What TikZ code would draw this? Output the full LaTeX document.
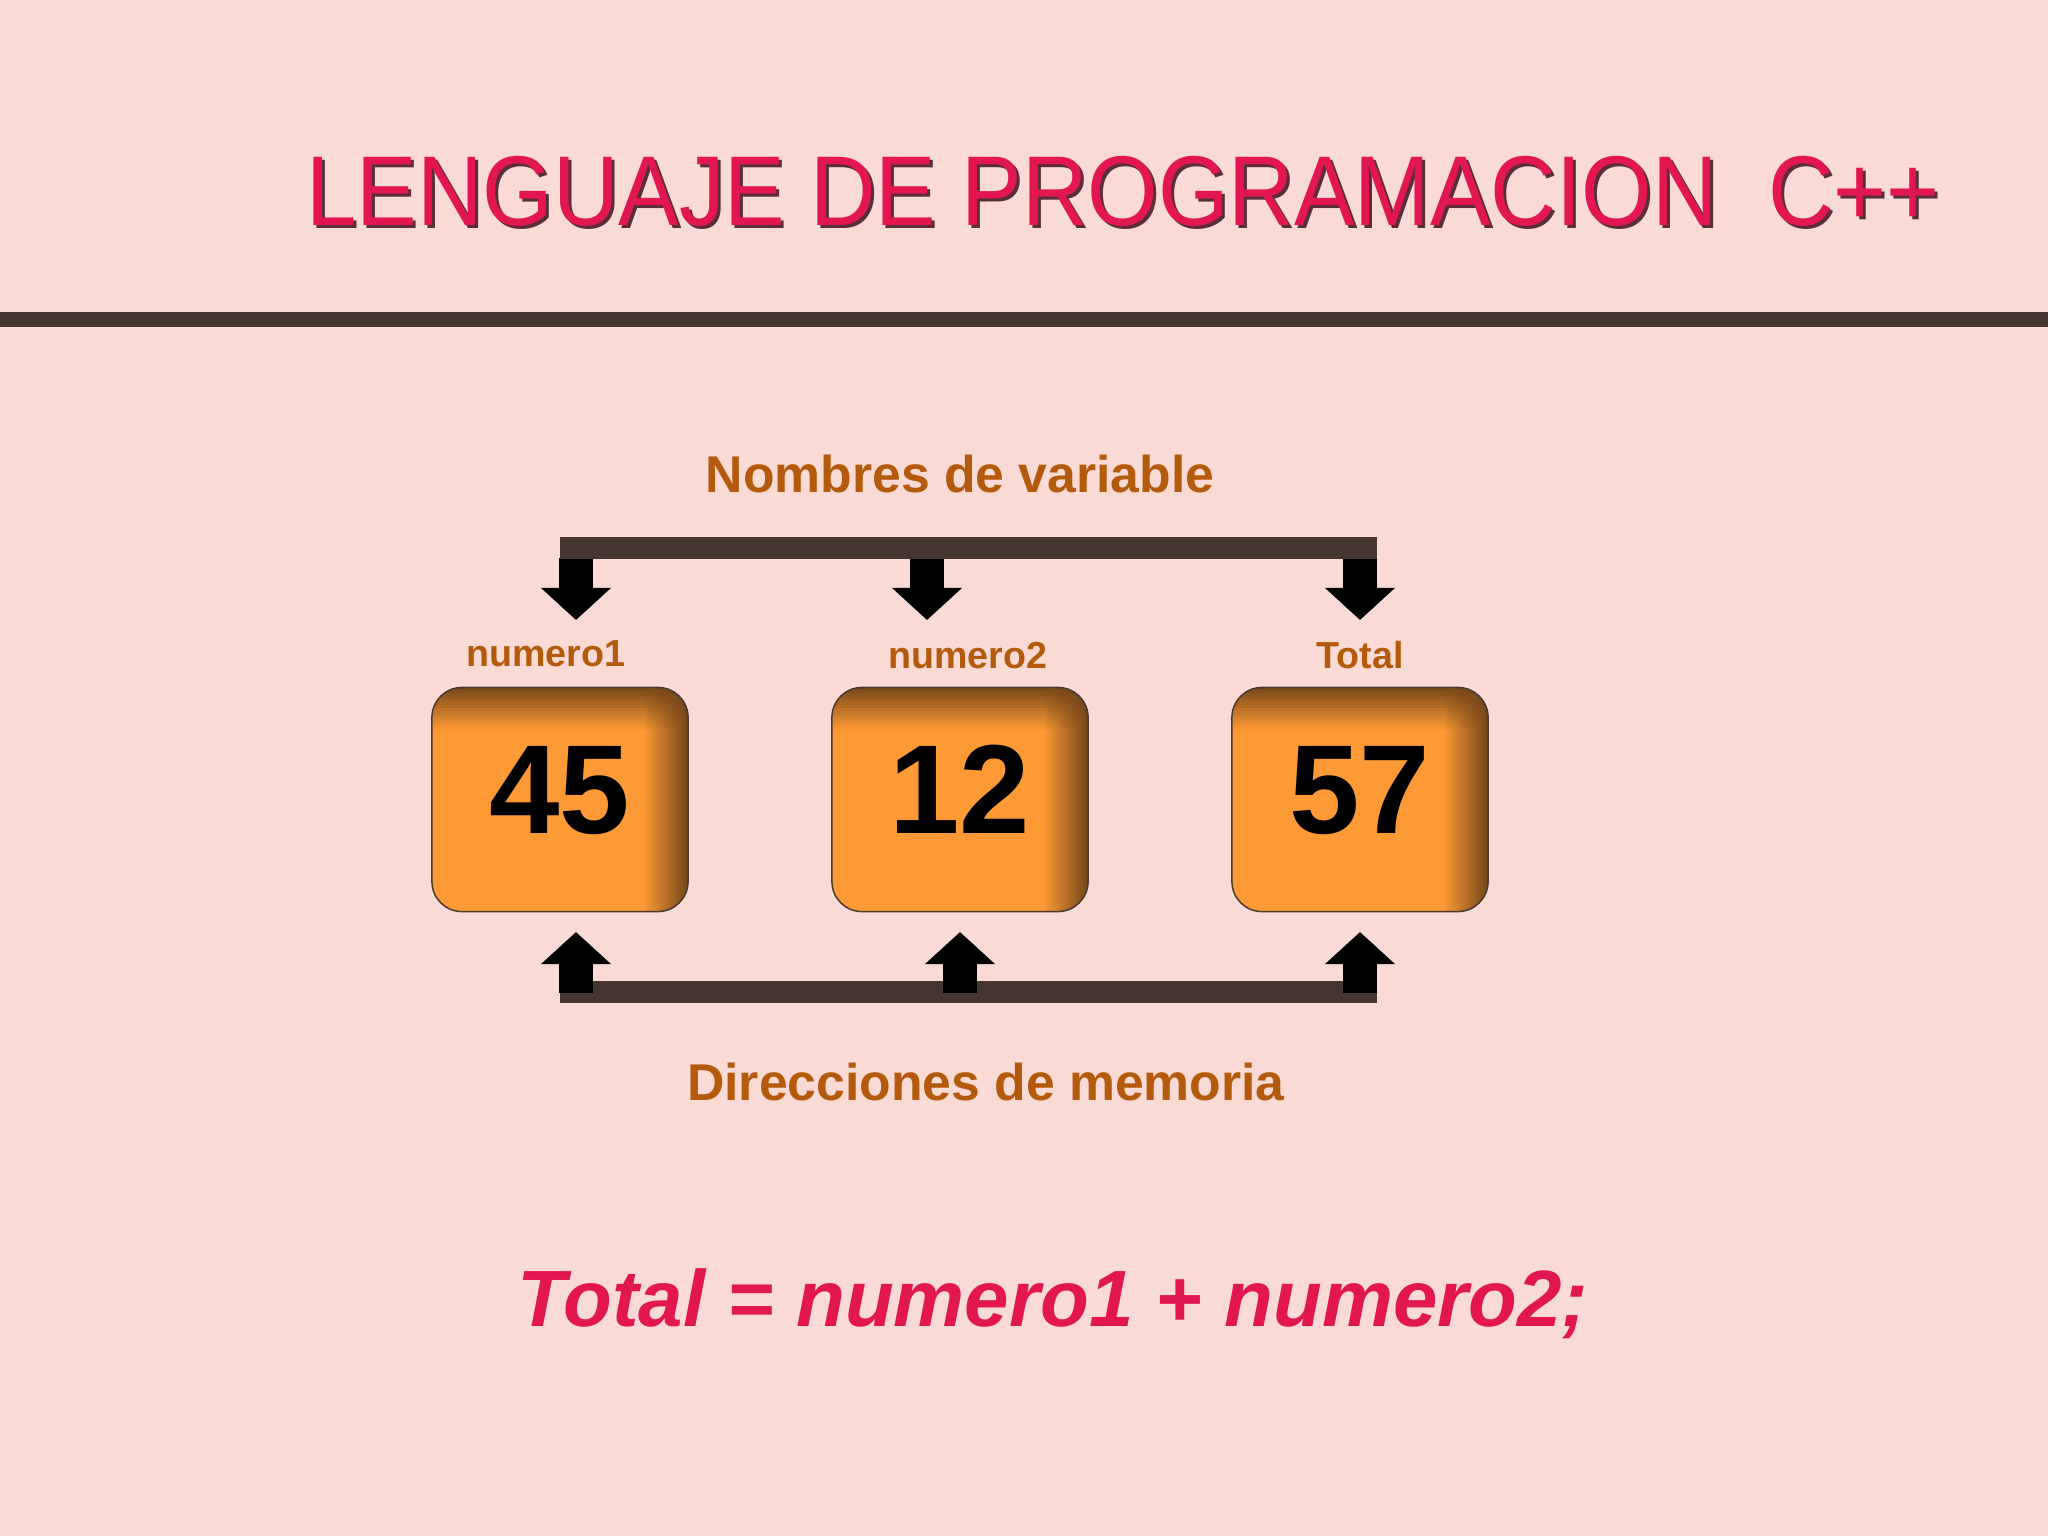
\documentclass[tikz,border=0pt]{standalone}
\usepackage{fontspec}
\setmainfont{Liberation Sans}
\usetikzlibrary{arrows.meta,fadings,positioning}
\definecolor{slidebg}{HTML}{FADAD5}
\definecolor{titlered}{HTML}{E2174F}
\definecolor{titleshade}{HTML}{5A2E38}
\definecolor{barbrown}{HTML}{463630}
\definecolor{labelbrown}{HTML}{B35A0C}
\definecolor{boxorange}{HTML}{FE9A35}
\definecolor{boxshadow}{HTML}{744518}
\definecolor{boxedge}{HTML}{4A3A30}
\tikzfading[name=faderight, left color=transparent!100, right color=transparent!0]

\begin{document}
\begin{tikzpicture}[
	x=0.01cm, y=-0.01cm,
	every node/.style={inner sep=0pt},
	heading/.style={
		font=\fontsize{28.2}{32}\selectfont,
		anchor=base,
	},
	caption/.style={
		font=\bfseries\fontsize{14.7}{17}\selectfont,
		text=labelbrown,
		anchor=base,
	},
	varname/.style={
		font=\bfseries\fontsize{10.7}{13}\selectfont,
		text=labelbrown,
		anchor=base,
	},
	valbox/.style={
		rectangle,
		rounded corners=0.3cm,
		minimum width=2.56cm,
		minimum height=2.24cm,
		fill=boxorange,
		draw=boxedge,
		line width=0.015cm,
		text depth=0.2cm,
		font=\bfseries\fontsize{36}{40}\selectfont,
		path picture={
			\foreach \k [evaluate=\k as \op using 0.95*(1-\k/14)] in {0,...,13}
				\fill[sharp corners, draw=none, boxshadow, opacity=\op]
					([yshift=-\k*0.03cm]path picture bounding box.north west) rectangle
					([yshift=-\k*0.03cm-0.03cm]path picture bounding box.north east);
			\fill[sharp corners, draw=none, boxshadow, path fading=faderight]
				([xshift=-0.45cm]path picture bounding box.north east) rectangle
				(path picture bounding box.south east);
		},
	},
	bracket/.style={
		draw=barbrown,
		line width=0.22cm,
	},
	blockarrow/.style={
		draw=black,
		line width=0.34cm,
		-{Triangle[width=0.68cm,length=0.32cm]},
	},
]
	\useasboundingbox[fill=slidebg] (0,0) rectangle (2048,1536);

	% title and rule
	\node (titleshadow) [heading,text=titleshade] at (1126,228)
		{\scalebox{0.915}[1]{LENGUAJE DE PROGRAMACION\ \ C++}};
	\node (title) [heading,text=titlered] at (1123,225)
		{\scalebox{0.915}[1]{LENGUAJE DE PROGRAMACION\ \ C++}};
	\fill[barbrown] (0,312) rectangle (2048,327);

	% variables
	\node (nombres) [caption] at (960,492) {Nombres de variable};
	\node (box1) [valbox] at (560,799.5) {45};
	\node (box2) [valbox] at (960,799.5) {12};
	\node (box3) [valbox] at (1360,799.5) {57};
	\node (name1) [varname] at (546,666) {numero1};
	\node (name2) [varname] at (968,668) {numero2};
	\node (name3) [varname] at (1360,668) {Total};
	\node (direcc) [caption] at (986,1100) {Direcciones de memoria};

	\coordinate (nbL) at (560,547.5);
	\coordinate (nbR) at (1377,547.5);
	\coordinate (dbL) at (560,991.5);
	\coordinate (dbR) at (1377,991.5);

	% arrows down to names
	\foreach \i/\x in {1/576,2/927,3/1360} {
		\coordinate (nb\i) at (\x,558);
		\coordinate (tip\i) at (\x,620);
		\draw [blockarrow] (nb\i) -- (tip\i);
	}
	\draw [bracket] (nbL) -- (nbR);

	% arrows up to boxes
	\draw [bracket] (dbL) -- (dbR);
	\foreach \i/\x in {1/576,2/960,3/1360} {
		\coordinate (db\i) at (\x,993);
		\coordinate (up\i) at (\x,932);
		\draw [blockarrow] (db\i) -- (up\i);
	}

	\node (formula) [anchor=base,text=titlered,
		font=\bfseries\itshape\fontsize{22.7}{26}\selectfont] at (1053,1326)
		{Total = numero1 + numero2;};
\end{tikzpicture}
\end{document}
